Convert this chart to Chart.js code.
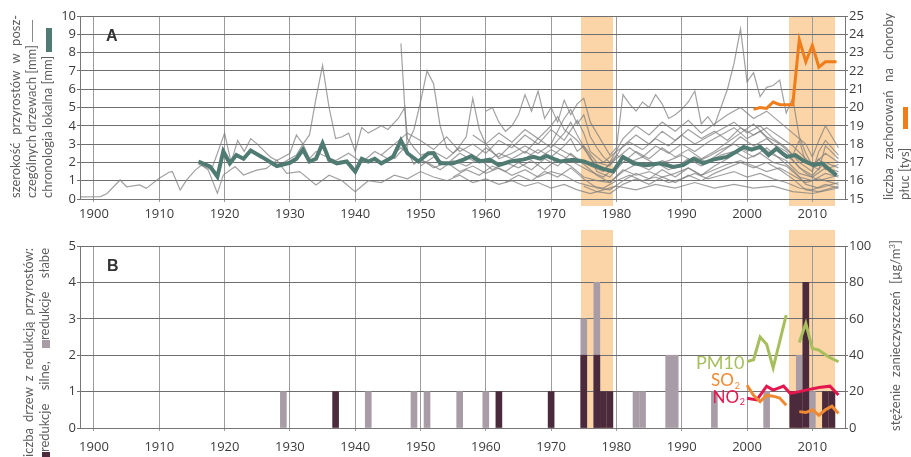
<!DOCTYPE html>
<html>
<head>
<meta charset="utf-8">
<script src="https://cdn.jsdelivr.net/npm/chart.js@4.4.1/dist/chart.umd.min.js"></script>
<style>
body { margin: 0; background: #fff; width: 911px; height: 457px; overflow: hidden; position: relative; font-family: Lato, sans-serif; }
canvas { position: absolute; left: 0; }
#cA { top: 0; }
#cB { top: 228px; }
.rot { position: absolute; transform: rotate(-90deg); transform-origin: left top; color: #5e5e5e; font-size: 13px; white-space: nowrap; }
.rot div { line-height: 16px; height: 16px; }
.just { text-align: justify; text-align-last: justify; }
.mark { display: inline-block; vertical-align: middle; }
.tag { position: absolute; font-family: "Liberation Sans", Arial, sans-serif; font-weight: bold; font-size: 16px; color: #333; line-height: 1; }
</style>
</head>
<body>
<canvas id="cA" width="911" height="228"></canvas>
<canvas id="cB" width="911" height="229"></canvas>

<!-- axis titles -->
<div class="rot" style="left:7px; top:198px; width:183px;">
  <div class="just">szerokość przyrostów w posz-</div>
  <div>czególnych drzewach [mm] <span class="mark" style="width:22px;height:1.5px;background:#888;"></span></div>
  <div>chronologia lokalna [mm] <span class="mark" style="width:24px;height:6px;background:#4f7b73;"></span></div>
</div>
<div class="rot" style="left:880px; top:200px; width:187px;">
  <div class="just">liczba zachorowań na choroby</div>
  <div>płuc [tys]<span class="mark" style="margin-left:19px;width:22px;height:5px;background:#f07d1a;"></span></div>
</div>
<div class="rot" style="left:20px; top:460px; width:212px;">
  <div class="just">liczba drzew z redukcją przyrostów:</div>
  <div class="just"><span class="mark" style="width:8px;height:8px;background:#4b2b3b;"></span>redukcje silne, <span class="mark" style="width:8px;height:8px;background:#a89da7;"></span>redukcje słabe</div>
</div>
<div class="rot" style="left:884px; top:431px; width:191px;">
  <div class="just">stężenie zanieczyszczeń [µg/m<sup style="font-size:8px">3</sup>]</div>
</div>
<span class="tag" style="left:106px; top:28px;">A</span>
<span class="tag" style="left:107px; top:258px;">B</span>

<script>
// shaded periods
const bands = [[1974.5, 1979.5], [2006.5, 2013.5]];

// panel A: local chronology (mm)
const chronology = [[1916,2.05],[1917.8,1.77],[1918.9,1.22],[1919.8,2.6],[1920.8,1.95],[1921.8,2.4],[1922.9,2.2],[1924,2.65],[1925.7,2.3],[1928,1.8],[1930,1.98],[1931,2.2],[1932,2.7],[1933,2.05],[1934,2.2],[1935,3.05],[1936,2.15],[1937.2,1.95],[1938.7,2.05],[1940,1.5],[1941,2.2],[1942,2.05],[1943,2.2],[1944,1.95],[1945.8,2.3],[1947,3.2],[1948,2.5],[1949.7,2.05],[1951.2,2.5],[1952,2.5],[1953,1.95],[1955,1.95],[1956.6,2.15],[1957.8,2.35],[1959,2.05],[1960.6,2.15],[1962,1.85],[1963.7,2.05],[1965.7,2.15],[1967.3,2.3],[1968.3,2.2],[1969.3,2.35],[1971.4,2.05],[1973.4,2.15],[1975,2.05],[1976.5,1.85],[1978,1.65],[1979.5,1.5],[1981,2.3],[1982.6,1.95],[1984.6,1.85],[1986.7,1.95],[1988.7,1.75],[1990.2,1.85],[1991.8,2.2],[1993.3,1.95],[1994.8,2.15],[1996.9,2.3],[1998.4,2.6],[1999.5,2.85],[2000.7,2.7],[2002,2.85],[2003.3,2.4],[2004.5,2.75],[2006.1,2.3],[2007.4,2.4],[2008.6,2.1],[2010.2,1.85],[2011.5,1.95],[2012.8,1.55],[2013.7,1.3]];

// panel A: lung disease cases (thousands), right axis
const lungCases = [[2001,19.9],[2002,20.0],[2003,19.95],[2004,20.3],[2005,20.15],[2006,20.15],[2007,20.15],[2008,23.7],[2009,22.5],[2010,23.4],[2011,22.2],[2012,22.5],[2013.7,22.5]];

// panel A: ring widths of individual trees (mm)
const tree01 = [[1898,0.12],[1901,0.13],[1902,0.3],[1904,1.04],[1905,0.67],[1907,0.77],[1908,0.58],[1910,1.13],[1911.5,1.46],[1912,1.5],[1913.2,0.49],[1914.2,1.04],[1915.5,1.58],[1916.5,1.86],[1917.5,1.58],[1918.9,0.31],[1919.8,1.31],[1921.6,1.77],[1922.9,1.31],[1924.9,1.58],[1926.4,1.67],[1928,2.13],[1929.5,1.4],[1931.5,1.5],[1934,0.77],[1936,1.3],[1938,1.0],[1940,0.4],[1942,1.0],[1944,0.9],[1946,1.3],[1948,1.1],[1950,1.5],[1952,1.2],[1954,1.0],[1956,1.3],[1958,0.9],[1960,1.1],[1962,0.8],[1964,1.0],[1966,0.7],[1968,0.9],[1970,0.6],[1972,0.8],[1974,0.5],[1976,0.3],[1978,0.5],[1980,0.7],[1983,0.5],[1986,0.8],[1989,0.6],[1992,0.9],[1995,0.6],[1998,0.8],[2001,0.6],[2004,0.7],[2007,0.4],[2010,0.3],[2014,0.6]];
const tree02 = [[1916,1.9],[1918,1.6],[1920,3.6],[1921,2.0],[1922,3.2],[1923,2.6],[1924,3.3],[1925,3.0],[1927,2.3],[1928,2.1],[1930,2.5],[1931,3.5],[1932,3.0],[1933,2.2],[1934,2.6],[1935,2.4],[1937,2.1],[1939,2.5],[1941,2.0],[1943,2.6],[1945,2.2],[1947,2.8],[1949,2.2],[1951,2.0],[1953,1.6],[1955,2.1],[1957,1.8],[1959,2.2],[1961,1.6],[1963,2.0],[1965,1.7],[1967,2.1],[1969,1.6],[1971,2.2],[1973,1.8],[1975,1.2],[1977,1.0],[1979,0.9],[1981,1.6],[1983,1.3],[1985,1.5],[1987,1.2],[1989,1.4],[1991,1.7],[1993,1.3],[1995,1.6],[1997,1.9],[1999,2.1],[2001,1.8],[2003,1.5],[2005,1.7],[2007,1.3],[2009,0.9],[2011,1.1],[2014,0.8]];
const tree03 = [[1929,2.0],[1931,2.4],[1932,3.0],[1933,3.5],[1934,5.5],[1935,7.3],[1936,5.0],[1937,3.3],[1938,3.4],[1939,3.6],[1940,2.6],[1941,3.9],[1942,3.6],[1943,3.8],[1944,4.0],[1945,3.8],[1946.6,4.4],[1947.6,5.0],[1948,3.3],[1949,2.8],[1950,2.4],[1952,2.6],[1954,2.2],[1956,2.8],[1958,2.4],[1960,2.0],[1962,2.5],[1964,2.2],[1966,2.6],[1968,2.2],[1970,2.7],[1972,2.3],[1974,1.9],[1976,1.5],[1978,1.2],[1980,1.8],[1982,2.2],[1984,1.8],[1986,2.0],[1988,1.6],[1990,1.9],[1992,2.3],[1994,2.0],[1996,2.4],[1998,2.6],[2000,2.2],[2002,2.5],[2004,2.0],[2006,1.8],[2008,1.2],[2010,1.0],[2012,1.4],[2014,1.2]];
const tree04 = [[1947,8.5],[1948,2.6],[1949,1.9],[1950,2.2],[1952,1.7],[1954,2.0],[1956,1.5],[1958,1.8],[1960,1.4],[1962,1.7],[1964,1.3],[1966,1.6],[1968,1.2],[1970,1.5],[1972,1.3],[1974,0.9],[1976,0.7],[1978,0.6],[1980,1.0],[1982,1.3],[1984,1.0],[1986,1.2],[1988,0.9],[1990,1.1],[1992,1.4],[1994,1.1],[1996,1.3],[1998,1.5],[2000,1.2],[2002,1.4],[2004,1.1],[2006,0.9],[2008,0.6],[2010,0.5],[2012,0.8],[2014,0.6]];
const tree05 = [[1946,2.2],[1948,3.0],[1949,3.8],[1950,5.3],[1951,7.0],[1952,6.3],[1953,4.0],[1954,2.8],[1955,2.5],[1956,2.9],[1957,3.4],[1958,5.5],[1959,3.8],[1960,3.0],[1961,2.6],[1962,2.2],[1964,2.5],[1966,2.9],[1968,2.5],[1970,3.0],[1972,2.6],[1974,2.2],[1976,1.8],[1978,1.5],[1980,2.4],[1982,2.0],[1984,2.3],[1986,1.9],[1988,2.1],[1990,2.4],[1992,2.0],[1994,2.3],[1996,2.7],[1998,3.0],[2000,2.6],[2002,2.9],[2004,2.4],[2006,2.1],[2008,1.4],[2010,1.2],[2012,1.7],[2014,1.5]];
const tree06 = [[1960,4.8],[1961,5.0],[1962,4.2],[1963,3.7],[1964,4.0],[1965,4.6],[1966,5.7],[1967,4.8],[1968,5.9],[1969,4.4],[1970,5.0],[1971,4.2],[1972,5.4],[1973,4.6],[1974,5.2],[1975,5.5],[1976,4.2],[1977,3.6],[1978,3.0],[1979,2.4],[1980,2.8],[1981,5.7],[1982,5.2],[1983,4.8],[1984,5.3],[1985,5.0],[1986,5.7],[1987,5.2],[1988,4.4],[1989,4.6],[1990,4.9],[1991,5.3],[1992,5.9],[1993,4.1],[1994,4.5],[1995,4.0],[1996,5.0],[1997,6.0],[1998,7.4],[1999,9.3],[2000,6.4],[2001,6.9],[2002,5.6],[2003,6.1],[2004,6.2],[2005,6.5],[2006,4.7],[2007,5.5],[2008,3.4],[2009,2.5],[2010,1.8],[2011,2.2],[2012,1.6],[2014,1.9]];
const tree07 = [[1944,2.4],[1946,3.0],[1948,3.6],[1950,3.2],[1952,2.7],[1954,3.4],[1956,2.6],[1958,3.0],[1960,2.5],[1962,3.2],[1964,2.8],[1966,3.5],[1968,3.0],[1970,3.8],[1972,3.2],[1974,4.3],[1975,3.6],[1976,2.6],[1978,2.0],[1980,2.6],[1982,3.1],[1984,2.7],[1986,3.3],[1988,2.9],[1990,3.5],[1992,3.0],[1994,3.4],[1996,3.8],[1998,4.2],[2000,3.6],[2002,4.0],[2004,3.3],[2006,2.8],[2008,2.0],[2010,1.5],[2011,2.6],[2012,3.2],[2014,2.4]];
const tree08 = [[1950,1.8],[1952,2.3],[1954,1.9],[1956,2.5],[1958,2.1],[1960,2.8],[1962,2.3],[1964,3.0],[1966,2.5],[1968,3.3],[1970,2.8],[1972,3.6],[1973,4.2],[1974,3.5],[1976,2.2],[1978,1.6],[1980,2.2],[1982,2.8],[1984,2.3],[1986,2.9],[1988,2.5],[1990,3.0],[1992,2.6],[1994,3.1],[1996,3.5],[1998,3.9],[2000,3.3],[2002,3.7],[2004,3.0],[2006,2.6],[2008,1.7],[2010,1.3],[2012,2.0],[2014,1.7]];
const tree09 = [[1955,1.2],[1957,1.6],[1959,1.3],[1961,1.8],[1963,1.5],[1965,2.0],[1967,1.6],[1969,2.2],[1971,1.8],[1973,2.5],[1975,1.9],[1977,1.3],[1979,0.9],[1981,1.5],[1983,1.9],[1985,1.6],[1987,2.1],[1989,1.7],[1991,2.2],[1993,1.8],[1995,2.3],[1997,2.8],[1999,3.4],[2001,2.9],[2003,3.3],[2005,2.7],[2007,2.1],[2009,1.4],[2011,1.0],[2014,1.3]];
const tree10 = [[1958,3.5],[1960,3.0],[1962,3.6],[1964,3.1],[1966,3.8],[1968,3.3],[1970,4.0],[1971,4.5],[1972,3.8],[1974,3.2],[1976,2.3],[1977,1.5],[1979,1.2],[1981,2.0],[1983,2.6],[1985,2.2],[1987,2.8],[1989,2.3],[1991,2.7],[1993,2.2],[1995,2.6],[1997,3.1],[1999,3.6],[2001,4.1],[2003,3.4],[2005,3.0],[2007,2.4],[2008,3.2],[2009,2.0],[2011,1.6],[2012,2.9],[2014,2.2]];
const tree11 = [[1963,0.9],[1965,1.3],[1967,1.0],[1969,1.5],[1971,1.2],[1973,1.7],[1975,1.1],[1977,0.6],[1979,0.5],[1981,1.0],[1983,1.4],[1985,1.1],[1987,1.6],[1989,1.2],[1991,1.7],[1993,1.3],[1995,1.8],[1997,2.2],[1999,2.7],[2001,2.3],[2003,2.8],[2005,2.2],[2007,1.6],[2009,0.8],[2011,0.6],[2014,0.9]];
const tree12 = [[1966,2.2],[1968,2.7],[1970,2.3],[1972,2.9],[1973,3.3],[1974,2.6],[1975,2.9],[1977,2.0],[1979,1.8],[1981,2.9],[1983,3.5],[1985,3.0],[1987,3.7],[1989,3.2],[1991,3.8],[1993,3.3],[1995,3.7],[1997,3.2],[1999,3.9],[2001,3.5],[2003,3.9],[2005,3.4],[2007,2.9],[2009,2.2],[2010,1.8],[2012,2.5],[2014,2.0]];
const tree13 = [[1970,3.0],[1971,3.7],[1972,4.4],[1973,4.9],[1974,4.1],[1975,4.6],[1976,3.4],[1977,2.8],[1978,2.3],[1979,2.0],[1981,3.3],[1983,4.0],[1985,3.5],[1987,4.2],[1989,3.7],[1991,4.3],[1993,3.6],[1995,4.1],[1997,4.6],[1999,5.0],[2001,4.4],[2003,4.8],[2005,4.2],[2007,3.6],[2009,3.0],[2010,2.3],[2011,3.2],[2012,4.0],[2014,2.8]];
const tree14 = [[1975,0.7],[1977,0.4],[1979,0.3],[1981,0.8],[1983,1.1],[1985,0.8],[1987,1.2],[1989,0.9],[1991,1.3],[1993,1.0],[1995,1.4],[1997,1.7],[1999,2.0],[2001,1.7],[2003,2.0],[2005,1.6],[2007,1.1],[2009,0.5],[2011,0.4],[2014,0.7]];
const trees = [tree01, tree02, tree03, tree04, tree05, tree06, tree07, tree08, tree09, tree10, tree11, tree12, tree13, tree14];

// panel B: number of trees with growth reductions
const strongReductions = [[1937,1],[1962,1],[1970,1],[1975,2],[1977,2],[1978,1],[1979,1],[2007,1],[2008,1],[2009,4],[2012,1],[2013,1]];
const weakReductions = [[1929,1],[1942,1],[1949,1],[1951,1],[1956,1],[1960,1],[1975,1],[1977,2],[1983,1],[1984,1],[1988,2],[1989,2],[1995,1],[2003,1],[2008,1],[2010,1]];

// panel B: pollutant concentrations (µg/m3), right axis
const pm10a = [[2000,36.5],[2001,37.5],[2002,50],[2003,46],[2004,33],[2006,62]];
const pm10b = [[2008,47],[2009,57.5],[2010,43.7],[2011,42.8],[2012.5,39],[2014,36.4]];
const so2a = [[2000,23.5],[2001,18],[2002,14.5],[2003,18],[2004,17.5],[2005,16.5],[2006,12.5]];
const so2b = [[2008,9],[2009,8.5],[2010,10],[2011,7],[2012,10],[2013,12],[2014,8]];
const no2 = [[2000,16.3],[2001.5,15.4],[2003,23],[2004,20.8],[2005.6,23],[2006.6,19],[2008,20],[2009,20.8],[2011,22.3],[2012.7,23],[2014,18.1]];

const X_MIN = 1897.86, X_MAX = 2015;
const tickFont = { family: 'Open Sans', size: 13 };
const tickColor = '#3c3c3c';

const toXY = pairs => pairs.map(([x, y]) => ({ x: x, y: y }));

// weak bars sit on top of the strong ones: draw them as strong + weak, behind
const strongByYear = Object.fromEntries(strongReductions);
const weakTotals = weakReductions.map(([yr, n]) => [yr, n + (strongByYear[yr] || 0)]);

const bandPlugin = {
    id: 'bands',
    beforeDraw(chart, args, opts) {
        const { ctx, chartArea, scales: { x } } = chart;
        ctx.save();
        ctx.beginPath();
        ctx.fillStyle = '#fbd5a7';
        bands.forEach(([a, b]) => {
            const x1 = Math.round(x.getPixelForValue(a));
            const x2 = Math.round(x.getPixelForValue(b));
            const top = Math.round(chartArea.top - opts.above);
            ctx.fillRect(x1, top, x2 - x1, Math.round(chartArea.bottom + opts.below) - top);
        });
        ctx.restore();
    }
};

// pollutant names next to the start of each series
const pollutantLabels = {
    id: 'pollutantLabels',
    afterDatasetsDraw(chart) {
        const { ctx, scales: { x, y2 } } = chart;
        ctx.save();
        ctx.textBaseline = 'middle';
        ctx.textAlign = 'right';
        const drawSub = (text, color, xr, val, size) => {
            const px = x.getPixelForValue(xr);
            const py = y2.getPixelForValue(val);
            ctx.fillStyle = color;
            ctx.font = '9px Lato';
            ctx.fillText('2', px, py + 5);
            ctx.font = size + 'px Lato';
            ctx.fillText(text, px - 6, py);
        };
        ctx.fillStyle = '#a6bf5c';
        ctx.font = '18px Lato';
        ctx.fillText('PM10', x.getPixelForValue(1999.6), y2.getPixelForValue(35.5));
        drawSub('SO', '#f08a32', 1998.9, 26, 17);
        drawSub('NO', '#e3174e', 1999.7, 17, 17);
        ctx.restore();
    }
};

const xScale = (height, pad) => ({
    type: 'linear', min: X_MIN, max: X_MAX, offset: false,
    afterFit: s => { s.height = height; },
    ticks: { stepSize: 10, includeBounds: false, autoSkip: false, maxRotation: 0, padding: pad,
             color: tickColor, font: tickFont, callback: v => String(v) },
    grid: { color: '#9c9c9c', tickLength: 3, offset: false },
    border: { color: '#777' }
});

const yScale = (min, max, step, pos, width, drawGrid) => ({
    position: pos, min: min, max: max,
    afterFit: s => { s.width = width; },
    ticks: { stepSize: step, autoSkip: false, padding: 1, color: tickColor, font: tickFont },
    grid: { color: '#6f6f6f', tickLength: 3, drawOnChartArea: drawGrid },
    border: { color: '#777' }
});

// Panel A
const lineDs = (data, color, width, axis, order) => ({
    type: 'line', data: toXY(data), borderColor: color, borderWidth: width,
    yAxisID: axis, order: order, pointRadius: 0, tension: 0, fill: false
});

const datasetsA = [
    lineDs(chronology, '#4f7b73', 4, 'y', 0),
    lineDs(lungCases, '#f07d1a', 3, 'y2', 1)
];
trees.forEach(t => datasetsA.push(lineDs(t, 'rgba(125,125,125,0.72)', 1.2, 'y', 2)));

new Chart(document.getElementById('cA'), {
    type: 'line',
    data: { datasets: datasetsA },
    options: {
        responsive: false, animation: false, events: [],
        layout: { padding: { top: 16, left: 0, right: 0, bottom: 0 } },
        plugins: { legend: { display: false }, tooltip: { enabled: false }, bands: { above: 0, below: 7 } },
        scales: {
            x: xScale(29, 4),
            y: yScale(0, 10, 1, 'left', 80, true),
            y2: yScale(15, 25, 1, 'right', 66, false)
        }
    },
    plugins: [bandPlugin]
});

// Panel B
const barDs = (data, color, order) => ({
    type: 'bar', data: toXY(data), backgroundColor: color, borderWidth: 0,
    barThickness: 6, grouped: false, yAxisID: 'y', order: order
});

new Chart(document.getElementById('cB'), {
    type: 'line',
    data: {
        datasets: [
            lineDs(pm10a, '#a6bf5c', 3, 'y2', 0),
            lineDs(pm10b, '#a6bf5c', 3, 'y2', 0),
            lineDs(so2a, '#f08a32', 3, 'y2', 0),
            lineDs(so2b, '#f08a32', 3, 'y2', 0),
            lineDs(no2, '#e3174e', 3, 'y2', 0),
            barDs(strongReductions, '#4b2b3b', 2),
            barDs(weakTotals, '#a89da7', 3)
        ]
    },
    options: {
        responsive: false, animation: false, events: [],
        layout: { padding: { top: 18, left: 0, right: 0, bottom: 0 } },
        plugins: { legend: { display: false }, tooltip: { enabled: false }, bands: { above: 16, below: 0 } },
        scales: {
            x: xScale(29, 8),
            y: yScale(0, 5, 1, 'left', 80, true),
            y2: yScale(0, 100, 20, 'right', 66, false)
        }
    },
    plugins: [bandPlugin, pollutantLabels]
});
</script>
</body>
</html>
